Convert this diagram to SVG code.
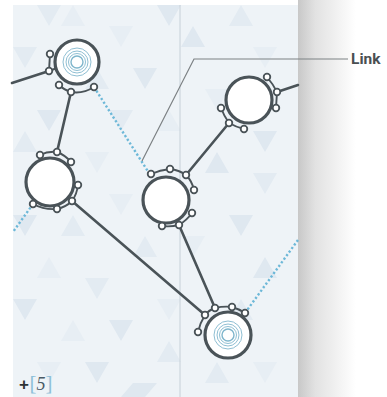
<svg xmlns="http://www.w3.org/2000/svg" width="387" height="397" viewBox="0 0 387 397">
  <style>
    .edge{fill:none;stroke:#4a5358;stroke-width:2.6;stroke-linecap:round}
    .dot{fill:none;stroke:#6db8d8;stroke-width:2.4;stroke-dasharray:2.2 2.2}
    .ring{fill:#fff;stroke:#4a5358;stroke-width:3.2}
    .arc{fill:none;stroke:#4a5358;stroke-width:1.9}
    .port{fill:#fff;stroke:#4a5358;stroke-width:1.8}
    .conc{fill:none;stroke:#8fbfd3;stroke-width:1}
    .call{fill:none;stroke:#7c8184;stroke-width:1.2}
    .t1{fill:#e3ebf2}
    .t2{fill:#e7eef4}
    .t3{fill:#dfe8f0}
  </style>
  <defs>
    <linearGradient id="sh" x1="0" y1="0" x2="1" y2="0">
      <stop offset="0" stop-color="#c8c8c8"/>
      <stop offset="0.3" stop-color="#e2e2e2"/>
      <stop offset="1" stop-color="#ffffff"/>
    </linearGradient>
  </defs>
  <rect width="387" height="397" fill="#ffffff"/>
  <rect x="298" y="0" width="58" height="397" fill="url(#sh)"/>
  <rect x="13" y="5" width="285" height="392" fill="#eef3f7"/>
  <g id="bgtris">
    <polygon class="t1" points="37,5 61,5 49,26"/>
    <polygon class="t2" points="61,26 85,26 73,5"/>
    <polygon class="t3" points="157,5 181,5 169,26"/>
    <polygon class="t1" points="229,26 253,26 241,5"/>
    <polygon class="t2" points="109,26 133,26 121,47"/>
    <polygon class="t3" points="181,47 205,47 193,26"/>
    <polygon class="t1" points="13,47 37,47 25,68"/>
    <polygon class="t2" points="253,47 277,47 265,68"/>
    <polygon class="t3" points="133,68 157,68 145,89"/>
    <polygon class="t1" points="85,89 109,89 97,68"/>
    <polygon class="t2" points="205,89 229,89 217,110"/>
    <polygon class="t3" points="37,110 61,110 49,131"/>
    <polygon class="t1" points="109,110 133,110 121,131"/>
    <polygon class="t2" points="157,131 181,131 169,110"/>
    <polygon class="t3" points="253,131 277,131 265,152"/>
    <polygon class="t1" points="13,152 37,152 25,131"/>
    <polygon class="t2" points="85,152 109,152 97,173"/>
    <polygon class="t3" points="205,173 229,173 217,152"/>
    <polygon class="t1" points="253,173 277,173 265,194"/>
    <polygon class="t2" points="109,194 133,194 121,215"/>
    <polygon class="t3" points="13,215 37,215 25,236"/>
    <polygon class="t1" points="61,236 85,236 73,215"/>
    <polygon class="t2" points="181,236 205,236 193,257"/>
    <polygon class="t3" points="229,215 253,215 241,236"/>
    <polygon class="t1" points="133,257 157,257 145,236"/>
    <polygon class="t2" points="37,278 61,278 49,257"/>
    <polygon class="t3" points="253,278 277,278 265,257"/>
    <polygon class="t1" points="85,278 109,278 97,299"/>
    <polygon class="t2" points="157,299 181,299 169,320"/>
    <polygon class="t3" points="13,299 37,299 25,320"/>
    <polygon class="t1" points="229,320 253,320 241,299"/>
    <polygon class="t2" points="61,341 85,341 73,320"/>
    <polygon class="t3" points="109,320 133,320 121,341"/>
    <polygon class="t1" points="157,362 181,362 169,341"/>
    <polygon class="t2" points="253,362 277,362 265,383"/>
    <polygon class="t3" points="85,362 109,362 97,383"/>
    <polygon class="t1" points="205,383 229,383 217,362"/>
    <polygon class="t2" points="37,362 61,362 49,383"/>
    <polygon class="t3" points="133,383 157,383 145,397 121,397"/>
  </g>
  <line x1="180" y1="5" x2="180" y2="397" stroke="#c6d0d8" stroke-width="1"/>

  <g id="connectors">
    <line class="edge" x1="12" y1="83" x2="49" y2="71"/>
    <line class="edge" x1="71" y1="92" x2="57" y2="152"/>
    <line class="edge" x1="72" y1="201" x2="205" y2="315"/>
    <line class="edge" x1="179" y1="225" x2="215" y2="308"/>
    <line class="edge" x1="229" y1="123" x2="186" y2="175"/>
    <line class="edge" x1="277" y1="92" x2="298" y2="85"/>
    <line class="dot" x1="94" y1="87" x2="149" y2="173"/>
    <line class="dot" x1="33" y1="204" x2="13" y2="232"/>
    <line class="dot" x1="245" y1="313" x2="298" y2="240"/>
    <polyline class="call" points="142,161 194,59 348,59"/>
  </g>

  <g id="nodeA">
    <path class="arc" d="M59,85 Q64,90 71,92 Q83,94 94,87"/>
    <line class="arc" x1="49" y1="71" x2="57" y2="68"/>
    <line class="arc" x1="49" y1="71" x2="50" y2="54"/>
    <circle class="ring" cx="77" cy="62" r="22"/>
    <circle class="conc" cx="77" cy="62" r="14"/>
    <circle class="conc" cx="77" cy="62" r="11"/>
    <circle class="conc" cx="77" cy="62" r="8.5"/>
    <circle cx="77" cy="62" r="6" fill="none" stroke="#7fb6cc" stroke-width="1.4"/>
    <circle class="port" cx="50" cy="54" r="3.3"/>
    <circle class="port" cx="49" cy="71" r="3.3"/>
    <circle class="port" cx="59" cy="85" r="3.3"/>
    <circle class="port" cx="71" cy="92" r="3.3"/>
    <circle class="port" cx="94" cy="87" r="3.3"/>
  </g>

  <g id="nodeB">
    <path class="arc" d="M40,155 Q48,151 57,152 Q65,155 71,162"/>
    <path class="arc" d="M33,204 Q44,210 57,209 Q66,207 72,201"/>
    <path class="arc" d="M78,185 Q77,194 72,201"/>
    <circle class="ring" cx="50" cy="182" r="24"/>
    <circle class="port" cx="40" cy="155" r="3.3"/>
    <circle class="port" cx="57" cy="152" r="3.3"/>
    <circle class="port" cx="71" cy="162" r="3.3"/>
    <circle class="port" cx="78" cy="185" r="3.3"/>
    <circle class="port" cx="72" cy="201" r="3.3"/>
    <circle class="port" cx="57" cy="209" r="3.3"/>
    <circle class="port" cx="33" cy="204" r="3.3"/>
  </g>

  <g id="nodeC">
    <path class="arc" d="M151,174 Q160,170 170,169 Q179,170 186,175"/>
    <path class="arc" d="M186,175 Q192,181 194,190"/>
    <path class="arc" d="M162,226 Q171,227 179,225 Q187,220 192,213"/>
    <circle class="ring" cx="166" cy="200" r="23"/>
    <circle class="port" cx="151" cy="174" r="3.3"/>
    <circle class="port" cx="170" cy="169" r="3.3"/>
    <circle class="port" cx="186" cy="175" r="3.3"/>
    <circle class="port" cx="194" cy="190" r="3.3"/>
    <circle class="port" cx="192" cy="213" r="3.3"/>
    <circle class="port" cx="179" cy="225" r="3.3"/>
    <circle class="port" cx="162" cy="226" r="3.3"/>
  </g>

  <g id="nodeD">
    <path class="arc" d="M267,77 Q273,84 277,92"/>
    <line class="arc" x1="277" y1="92" x2="276" y2="108"/>
    <path class="arc" d="M221,108 Q224,116 229,123"/>
    <path class="arc" d="M229,123 Q236,127 244,129"/>
    <circle class="ring" cx="249" cy="100" r="23"/>
    <circle class="port" cx="267" cy="77" r="3.3"/>
    <circle class="port" cx="277" cy="92" r="3.3"/>
    <circle class="port" cx="276" cy="108" r="3.3"/>
    <circle class="port" cx="221" cy="108" r="3.3"/>
    <circle class="port" cx="229" cy="123" r="3.3"/>
    <circle class="port" cx="244" cy="129" r="3.3"/>
  </g>

  <g id="nodeF">
    <path class="arc" d="M205,315 Q209,310 215,308 Q224,306 232,307 Q239,309 245,313"/>
    <path class="arc" d="M205,315 Q200,323 198,332"/>
    <circle class="ring" cx="228" cy="335" r="23"/>
    <circle class="conc" cx="228" cy="335" r="14"/>
    <circle class="conc" cx="228" cy="335" r="11"/>
    <circle class="conc" cx="228" cy="335" r="8.5"/>
    <circle cx="228" cy="335" r="6" fill="none" stroke="#7fb6cc" stroke-width="1.4"/>
    <circle class="port" cx="205" cy="315" r="3.3"/>
    <circle class="port" cx="215" cy="308" r="3.3"/>
    <circle class="port" cx="232" cy="307" r="3.3"/>
    <circle class="port" cx="245" cy="313" r="3.3"/>
    <circle class="port" cx="198" cy="332" r="3.3"/>
  </g>

  <g id="labels">
    <text x="351" y="64" font-family="Roboto, 'Liberation Sans', sans-serif" font-weight="700" font-size="15.5" fill="#4a4f52">Link</text>
    <text x="19" y="390" font-family="'Liberation Sans', sans-serif" font-weight="700" font-size="17" fill="#2d3235">+</text>
    <text x="29.5" y="390" font-family="'Liberation Serif', serif" font-size="21" fill="#8fc0d8">[<tspan font-style="italic" fill="#4a5a66" font-size="18">5</tspan>]</text>
  </g>
</svg>
